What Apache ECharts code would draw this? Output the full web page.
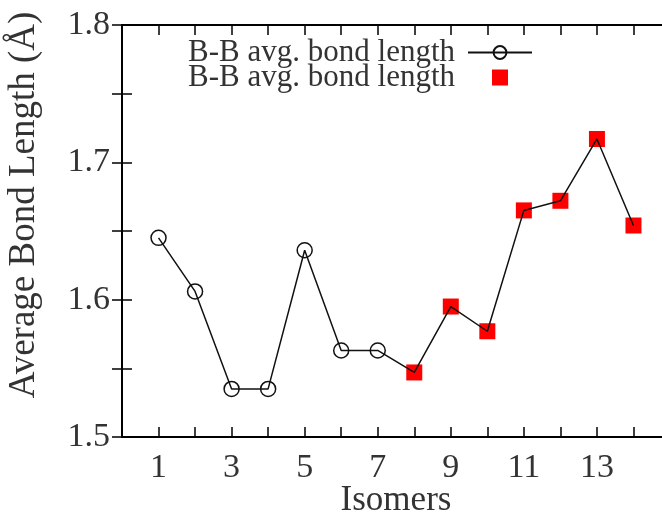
<!DOCTYPE html>
<html>
<head>
<meta charset="utf-8">
<script src="https://cdn.jsdelivr.net/npm/echarts@6/dist/echarts.min.js"></script>
<style>html,body{margin:0;padding:0;background:#fff}#c{width:662px;height:515px}</style>
</head>
<body>
<div id="c"></div>
<script>
// Data
var isomers = [1,2,3,4,5,6,7,8,9,10,11,12,13,14];
var bondLength = [1.645,1.606,1.535,1.535,1.636,1.563,1.563,1.547,1.595,1.577,1.665,1.672,1.717,1.654];
var redIsomers = [8,9,10,11,12,13,14];
var redBondLength = [1.547,1.595,1.577,1.665,1.672,1.717,1.654];
var xTickLabels = [1,3,5,7,9,11,13];
var yTickLabels = [1.5,1.6,1.7,1.8];
var legendLabel = 'B-B avg. bond length';

var FONT = 'Liberation Serif';
var chart = echarts.init(document.getElementById('c'), null, {renderer:'canvas'});

var lineData = isomers.map(function(x,i){
  var d = {value:[x,bondLength[i]]};
  if (redIsomers.indexOf(x) >= 0) d.symbol = 'none';
  return d;
});
var redData = redIsomers.map(function(x,i){ return [x, redBondLength[i]]; });

var axisLineStyle = {color:'#000', width:2};
var tickStyle = {show:true, inside:true, length:10, lineStyle:{color:'#000', width:1.5}};

var option = {
  animation:false,
  backgroundColor:'#fff',
  grid:{left:122, top:25, width:548, height:412, containLabel:false, outerBoundsMode:'none'},
  legend:{
    orient:'vertical', right:124, top:32, itemGap:-6,
    itemWidth:64, itemHeight:16, align:'right',
    formatter:function(){ return legendLabel; },
    textStyle:{fontFamily:FONT, fontSize:31, color:'#333', padding:[0,8,0,0]},
    data:[
      {name:'s1'},
      {name:'s2', icon:'path://M0,0M64,16M24,0h16v16h-16z'}
    ]
  },
  xAxis:[{
    type:'value', min:0, max:15, interval:1, position:'bottom',
    name:'Isomers', nameLocation:'middle', nameGap:46, nameMoveOverlap:false,
    nameTextStyle:{fontFamily:FONT, fontSize:35, color:'#333'},
    axisLine:{show:true, lineStyle:axisLineStyle},
    axisTick:tickStyle,
    splitLine:{show:false},
    axisLabel:{margin:14, fontFamily:FONT, fontSize:34, color:'#333',
      formatter:function(v){ return xTickLabels.indexOf(v) >= 0 ? String(v) : ''; }}
  },{
    type:'value', min:0, max:15, interval:1, position:'top',
    axisLine:{show:true, lineStyle:axisLineStyle},
    axisTick:tickStyle, axisLabel:{show:false}, splitLine:{show:false}
  }],
  yAxis:[{
    type:'value', min:1.5, max:1.8, interval:0.05, position:'left',
    name:'Average Bond Length (Å)', nameLocation:'middle', nameGap:79, nameRotate:90, nameMoveOverlap:false,
    nameTextStyle:{fontFamily:FONT, fontSize:37, color:'#333', padding:[0,0,0,52]},
    axisLine:{show:true, lineStyle:axisLineStyle},
    axisTick:tickStyle,
    splitLine:{show:false},
    axisLabel:{margin:12, fontFamily:FONT, fontSize:34, color:'#333',
      formatter:function(v){
        for (var i=0;i<yTickLabels.length;i++){ if (Math.abs(v-yTickLabels[i])<1e-6) return yTickLabels[i].toFixed(1); }
        return '';
      }}
  },{
    type:'value', min:1.5, max:1.8, interval:0.05, position:'right',
    axisLine:{show:true, lineStyle:axisLineStyle},
    axisTick:tickStyle, axisLabel:{show:false}, splitLine:{show:false}
  }],
  series:[
    {
      name:'s2', type:'scatter', xAxisIndex:0, yAxisIndex:0,
      symbol:'rect', symbolSize:16, z:2,
      itemStyle:{color:'#ff0000', opacity:1},
      data:redData
    },
    {
      name:'s1', type:'line', xAxisIndex:0, yAxisIndex:0, z:3,
      symbol:'circle', symbolSize:15, showAllSymbol:true,
      lineStyle:{color:'#111', width:1.5},
      itemStyle:{color:'rgba(0,0,0,0)', borderColor:'#111', borderWidth:1.5},
      data:lineData
    }
  ]
};
chart.setOption(option);
</script>
</body>
</html>
